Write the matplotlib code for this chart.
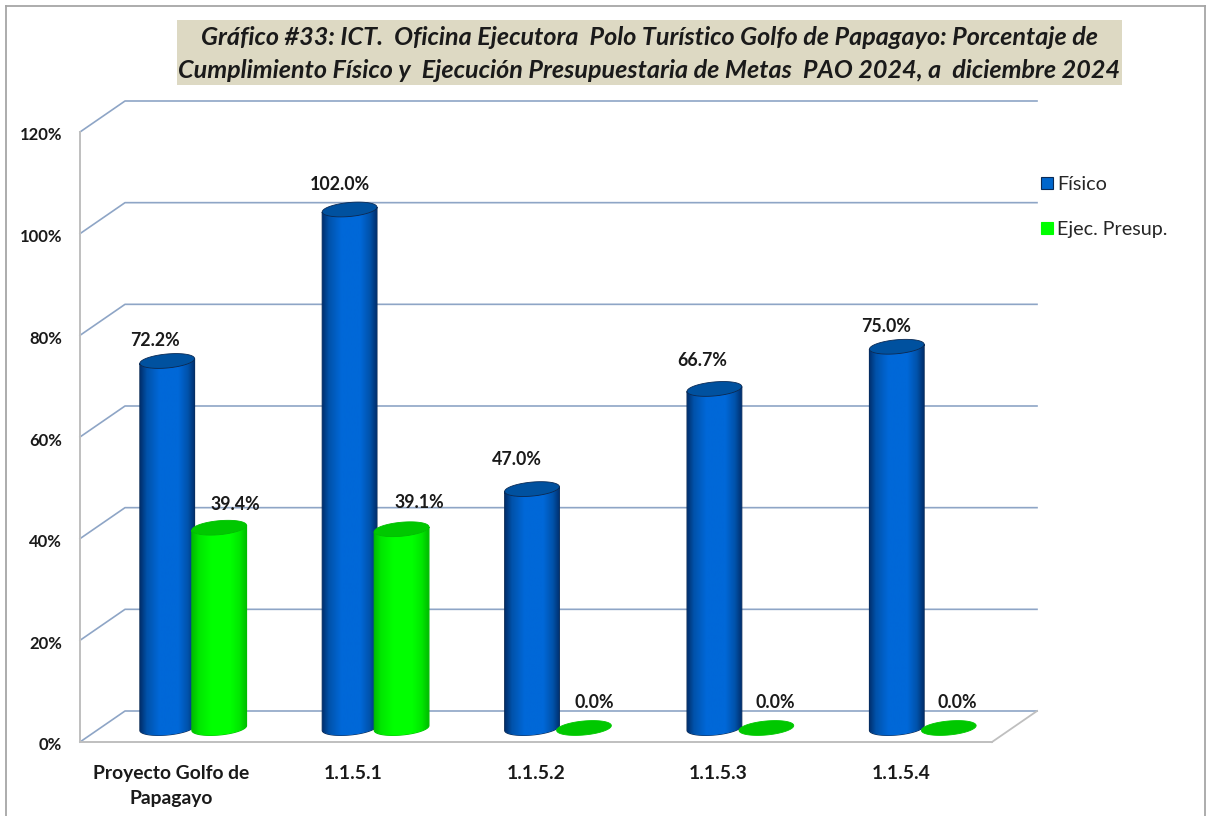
import matplotlib
matplotlib.use('Agg')
import matplotlib.pyplot as plt
import numpy as np
from matplotlib.lines import Line2D
from matplotlib.patches import Patch, Polygon, Rectangle
from matplotlib.transforms import ScaledTranslation

plt.rcParams['font.family'] = ['Lato', 'DejaVu Sans']

categories = ['Proyecto Golfo de\nPapagayo', '1.1.5.1', '1.1.5.2', '1.1.5.3', '1.1.5.4']
fisico = [72.2, 102.0, 47.0, 66.7, 75.0]
ejec = [39.4, 39.1, 0.0, 0.0, 0.0]
y_ticks = [0, 20, 40, 60, 80, 100, 120]
title = ('Gráfico #33: ICT.  Oficina Ejecutora  Polo Turístico Golfo de Papagayo: Porcentaje de\n'
         'Cumplimiento Físico y  Ejecución Presupuestaria de Metas  PAO 2024, a  diciembre 2024')

W, H = 1206, 816
fig = plt.figure(figsize=(W / 100, H / 100), dpi=100)
ax = fig.add_axes([80 / W, (H - 742) / H, 912 / W, 610 / H])

# fake 3d: depth of the back wall and of the bars, in data units
wall_dx, wall_dy = 45 / 182.4, 31 / 5.083
bar_dx, bar_dy = 22 / 182.4, 14 / 5.083
bar_w = 0.30
ell_b = 7 / 5.083
tilt = 2.4 / 5.083 / (bar_w / 2)


def ellipse_xy(cx, cy, t):
    x = cx + bar_w / 2 * np.cos(t)
    y = cy + ell_b * np.sin(t) + tilt * (x - cx)
    return x, y


def draw_bar(cx, val, shades, top_color, edge):
    base = bar_dy
    top = base + val
    if val > 0:
        t = np.linspace(np.pi, 2 * np.pi, 60)
        xb, yb = ellipse_xy(cx, base, t)
        xt, yt = ellipse_xy(cx, top, t[::-1])
        body = np.column_stack([np.r_[xb, xt], np.r_[yb, yt]])
        poly = Polygon(body, closed=True, fc='none', ec=edge, lw=0.8, zorder=3)
        ax.add_patch(poly)
        im = ax.imshow(shades, extent=[cx - bar_w / 2, cx + bar_w / 2, 0, top + 3],
                       aspect='auto', zorder=3, interpolation='bilinear')
        im.set_clip_path(poly)
    t = np.linspace(0, 2 * np.pi, 120)
    xe, ye = ellipse_xy(cx, top, t)
    ax.add_patch(Polygon(np.column_stack([xe, ye]), closed=True, fc=top_color,
                         ec=edge if val > 0 else top_color, lw=0.6, zorder=3))


def gradient(dark, mid, light):
    stops = np.array([0, 0.12, 0.35, 0.7, 0.88, 1.0])
    cols = np.array([dark, mid, light, light, mid, dark], dtype=float) / 255
    pos = np.linspace(0, 1, 64)
    return np.stack([np.interp(pos, stops, cols[:, k]) for k in range(3)], axis=1)[None, :, :]


blue_shade = gradient((0, 48, 110), (0, 82, 170), (0, 104, 216))
green_shade = gradient((0, 190, 0), (0, 230, 0), (0, 255, 0))

x = np.arange(len(categories))
x0, x1 = x[0] - 0.5, x[-1] + 0.5

# back wall lines
grid_col = '#8ea5c6'
for v in y_ticks:
    ax.plot([x0, x0 + wall_dx, x1 + wall_dx], [v, v + wall_dy, v + wall_dy],
            color=grid_col, lw=1.2, clip_on=False, zorder=1)
ax.plot([x1, x1 + wall_dx], [0, wall_dy], color='#bfbfbf', lw=1.3, clip_on=False, zorder=1)

for i in x:
    draw_bar(i + bar_dx - bar_w / 2 * 0.95, fisico[i], blue_shade, '#00519f', '#0a2a55')
    draw_bar(i + bar_dx + bar_w / 2 * 0.95, ejec[i], green_shade, '#00c800', '#00c000')

# value labels, nudged by hand like the original
fis_off = [(-12, 20), (-10, 25), (-15, 30), (-12, 28), (-11, 20)]
eje_off = [(16, 23), (18, 27), (10, 25), (9, 25), (8, 25)]
lab = dict(ha='center', va='center', fontsize=12.8, fontweight='bold', color='#1a1a1a',
           textcoords='offset pixels', zorder=5)
for i in x:
    bx = i + bar_dx - bar_w / 2 * 0.95
    gx = i + bar_dx + bar_w / 2 * 0.95
    ax.annotate(f'{fisico[i]:.1f}%', (bx, fisico[i] + bar_dy), xytext=fis_off[i], **lab)
    ax.annotate(f'{ejec[i]:.1f}%', (gx, ejec[i] + bar_dy), xytext=eje_off[i], **lab)

ax.set_xlim(x0, x1)
ax.set_ylim(0, 120)
ax.set_xticks(x)
ax.set_xticklabels(categories, fontsize=13.9, fontweight='bold', color='#1a1a1a', linespacing=1.58)
ax.set_yticks(y_ticks)
ax.set_yticklabels([f'{v}%' for v in y_ticks], fontsize=12, fontweight='bold', color='#1a1a1a')
ax.tick_params(axis='both', length=0)
ax.tick_params(axis='y', pad=13)
ax.tick_params(axis='x', pad=16.5)
shift = ScaledTranslation(0, -2 / 100, fig.dpi_scale_trans)
for t_lab in ax.get_yticklabels():
    t_lab.set_transform(t_lab.get_transform() + shift)
ax.patch.set_visible(False)
for s in ['top', 'right']:
    ax.spines[s].set_visible(False)
for s in ['left', 'bottom']:
    ax.spines[s].set_color('#bfbfbf')
    ax.spines[s].set_linewidth(1.4)

# title box
fig.add_artist(Rectangle((177 / W, 1 - 85 / H), 945 / W, 65 / H, transform=fig.transFigure,
                         fc='#ddd9c3', ec='none', zorder=0))
fig.text(649 / W, 1 - 54 / H, title, ha='center', va='center', fontsize=18.1,
         fontweight='bold', fontstyle='italic', color='#1a1a1a', linespacing=1.53)

# outer frame, runs off the bottom
for xs, ys in [([6, 6], [816, 5.5]), ([6, 1205], [5.5, 5.5]), ([1205, 1205], [5.5, 816])]:
    fig.add_artist(Line2D(np.array(xs) / W, 1 - np.array(ys) / H, color='#a6a6a6', lw=1.3))

handles = [Patch(fc='#0066cc', ec='#0a2a55', lw=0.8, label='Físico'),
           Patch(fc='#00ff00', ec='#00ff00', lw=0.8, label='Ejec. Presup.')]
fig.legend(handles=handles, loc='upper left', bbox_to_anchor=(1041 / W, 1 - 176 / H), frameon=False,
           fontsize=14.2, labelcolor='#262626', handlelength=0.61, handleheight=0.61,
           handletextpad=0.2, labelspacing=1.42, borderpad=0, borderaxespad=0)

fig.savefig('out.png', dpi=100, facecolor='white')
